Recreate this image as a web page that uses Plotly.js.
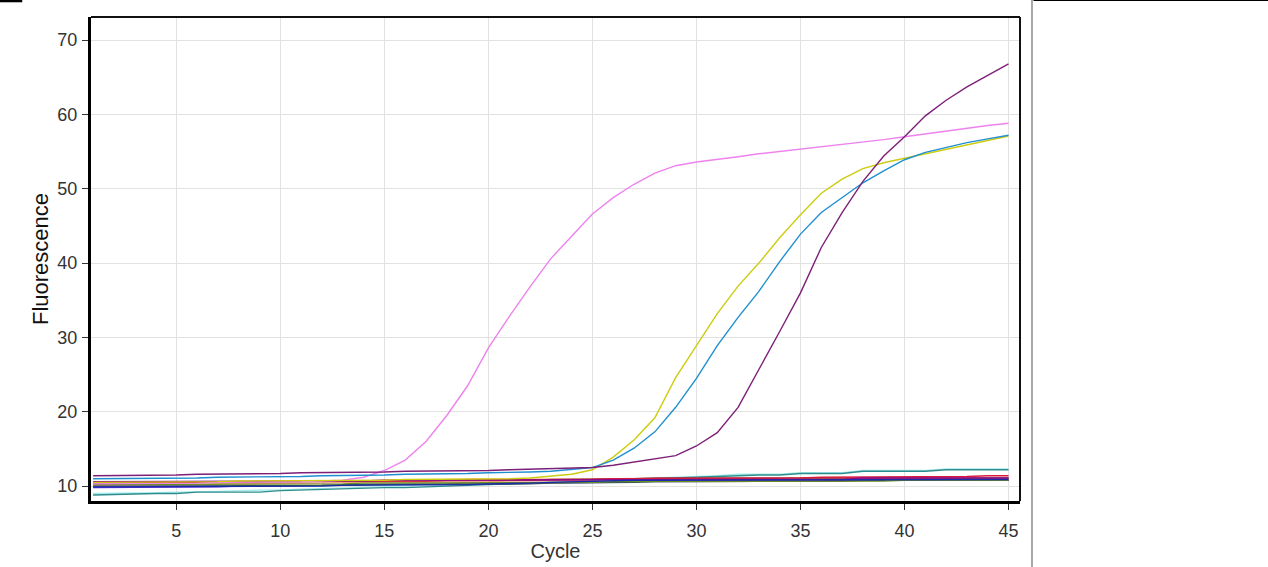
<!DOCTYPE html>
<html>
<head>
<meta charset="utf-8">
<script src="https://cdn.plot.ly/plotly-3.0.1.min.js"></script>
<style>html,body{margin:0;padding:0;background:#fff;}#chart{width:1268px;height:567px;}</style>
</head>
<body>
<div id="chart"></div>
<script>
const cycles = [1,2,3,4,5,6,7,8,9,10,11,12,13,14,15,16,17,18,19,20,21,22,23,24,25,26,27,28,29,30,31,32,33,34,35,36,37,38,39,40,41,42,43,44,45];

// flat (non-amplifying) wells
const tealVals = [8.8,8.9,9.0,9.0,9.0,9.2,9.2,9.2,9.2,9.4,9.5,9.6,9.6,9.8,9.8,9.8,9.9,10.0,10.1,10.2,10.3,10.4,10.5,10.6,10.7,10.8,10.9,11.0,11.1,11.2,11.3,11.5,11.5,11.5,11.7,11.7,11.7,12.0,12.0,12.0,12.0,12.2,12.2,12.2,12.2];
const lightCyanVals = [9.0,9.0,9.1,9.1,9.2,9.3,9.3,9.4,9.4,9.5,9.6,9.7,9.7,9.9,9.9,10.0,10.0,10.1,10.2,10.3,10.4,10.5,10.6,10.7,10.8,10.9,11.0,11.1,11.2,11.3,11.4,11.6,11.6,11.6,11.8,11.8,11.8,12.1,12.1,12.1,12.1,12.3,12.3,12.3,12.3];
const violetVals = [9.8,9.8,9.8,9.8,9.9,9.9,9.9,10.0,10.0,10.0,10.1,10.1,10.2,10.2,10.2,10.3,10.3,10.3,10.4,10.4,10.4,10.4,10.5,10.5,10.5,10.5,10.6,10.6,10.6,10.6,10.6,10.7,10.7,10.7,10.7,10.7,10.7,10.8,10.8,10.8,10.8,10.8,10.8,10.8,10.8];
const salmonVals = [10.1,10.1,10.1,10.2,10.2,10.2,10.3,10.3,10.3,10.4,10.4,10.4,10.5,10.5,10.5,10.5,10.6,10.6,10.6,10.6,10.7,10.7,10.7,10.7,10.8,10.8,10.8,10.8,10.8,10.9,10.9,10.9,10.9,10.9,10.9,11.0,11.0,11.0,11.0,11.0,11.0,11.0,11.0,11.0,11.0];
const slateVals = [10.0,10.0,10.0,10.0,10.0,10.0,10.1,10.1,10.1,10.1,10.1,10.1,10.2,10.2,10.2,10.2,10.2,10.2,10.2,10.3,10.3,10.3,10.4,10.4,10.5,10.5,10.5,10.6,10.6,10.6,10.6,10.7,10.7,10.7,10.7,10.7,10.8,10.8,10.8,10.8,10.8,10.8,10.8,10.8,10.8];
const greenVals = [10.2,10.2,10.2,10.2,10.3,10.3,10.3,10.3,10.3,10.3,10.3,10.3,10.3,10.4,10.4,10.4,10.4,10.4,10.4,10.4,10.5,10.5,10.5,10.5,10.5,10.6,10.6,10.6,10.6,10.6,10.6,10.7,10.7,10.7,10.7,10.7,10.7,10.7,10.7,10.8,10.8,10.8,10.8,10.8,10.8];
const orangeVals = [10.5,10.5,10.5,10.5,10.5,10.6,10.6,10.6,10.6,10.7,10.7,10.7,10.7,10.8,10.8,10.8,10.8,10.8,10.9,10.9,10.9,10.9,11.0,11.0,11.0,11.0,11.0,11.0,11.0,11.0,11.0,11.0,11.0,11.0,11.0,11.0,11.0,11.0,11.0,11.0,11.0,11.0,11.0,11.0,11.0];
const brownVals = [10.5,10.5,10.5,10.5,10.5,10.5,10.6,10.6,10.6,10.6,10.6,10.6,10.7,10.7,10.7,10.7,10.7,10.8,10.8,10.8,10.8,10.8,10.9,10.9,10.9,10.9,11.0,11.1,11.1,11.1,11.1,11.1,11.1,11.1,11.1,11.1,11.1,11.1,11.1,11.1,11.1,11.1,11.1,11.1,11.1];
const redVals = [10.4,10.4,10.4,10.5,10.5,10.5,10.5,10.5,10.6,10.6,10.6,10.6,10.6,10.7,10.7,10.7,10.7,10.8,10.8,10.8,10.8,10.9,10.9,10.9,10.9,11.0,11.0,11.0,11.0,11.0,11.0,11.1,11.1,11.1,11.1,11.2,11.2,11.2,11.2,11.2,11.3,11.3,11.3,11.4,11.4];
const navyVals = [9.9,9.9,9.9,9.9,9.9,9.9,9.9,9.9,10.0,10.0,10.0,10.0,10.1,10.1,10.1,10.1,10.1,10.2,10.2,10.3,10.3,10.4,10.5,10.6,10.7,10.7,10.8,10.8,10.8,10.8,10.8,10.8,10.8,10.8,10.8,10.8,10.8,10.9,10.9,10.9,10.9,10.9,10.9,10.9,10.9];
const purpleFlatVals = [10.6,10.6,10.6,10.6,10.6,10.6,10.6,10.7,10.7,10.7,10.7,10.7,10.7,10.7,10.8,10.8,10.8,10.8,10.8,10.8,10.8,10.8,10.8,10.8,10.8,10.8,10.8,10.8,10.8,10.8,10.8,10.8,10.9,10.9,10.9,10.9,10.9,11.1,11.1,11.1,11.1,11.1,11.1,11.1,11.1];

// amplifying wells
const pinkVals = [10.3,10.3,10.3,10.4,10.4,10.4,10.5,10.5,10.5,10.6,10.6,10.7,10.8,11.2,12.1,13.5,16.0,19.5,23.5,28.6,32.8,36.8,40.6,43.6,46.6,48.8,50.6,52.1,53.1,53.6,54.0,54.3,54.7,55.0,55.4,55.7,56.0,56.3,56.6,57.0,57.4,57.8,58.2,58.5,58.8];
const yellowVals = [10.5,10.5,10.5,10.6,10.6,10.6,10.6,10.7,10.7,10.7,10.7,10.8,10.8,10.8,10.8,10.9,10.9,10.9,11.0,11.0,11.0,11.1,11.3,11.6,12.2,13.9,16.2,19.2,24.6,28.9,33.2,36.9,40.0,43.4,46.5,49.4,51.3,52.7,53.5,54.1,54.7,55.3,55.9,56.5,57.1];
const blueVals = [11.0,11.0,11.0,11.1,11.1,11.1,11.2,11.2,11.2,11.3,11.3,11.4,11.4,11.5,11.5,11.6,11.6,11.7,11.7,11.8,11.8,11.9,12.0,12.2,12.5,13.5,15.1,17.3,20.6,24.5,28.9,32.7,36.2,40.2,43.9,46.8,48.8,50.8,52.4,53.9,54.9,55.6,56.2,56.7,57.2];
const purpleVals = [11.4,11.4,11.4,11.4,11.5,11.6,11.6,11.6,11.7,11.7,11.8,11.8,11.8,11.9,11.9,12.0,12.0,12.0,12.1,12.1,12.2,12.3,12.4,12.4,12.5,12.8,13.2,13.6,14.1,15.4,17.2,20.6,25.6,30.8,36.0,42.1,46.8,51.0,54.4,57.0,59.8,61.9,63.7,65.3,66.8];

const xTicks = [5,10,15,20,25,30,35,40,45];
const yTicks = [10,20,30,40,50,60,70];

const series = [
  {y: lightCyanVals, c: '#a6ecec'},
  {y: tealVals, c: '#2e8c8c'},
  {y: violetVals, c: '#5a2ae0'},
  {y: salmonVals, c: '#f2a37e'},
  {y: slateVals, c: '#2f4f5f'},
  {y: greenVals, c: '#6b8e23'},
  {y: orangeVals, c: '#e2701c'},
  {y: brownVals, c: '#a23c3c'},
  {y: redVals, c: '#d81b3c'},
  {y: purpleFlatVals, c: '#8b0a8b'},
  {y: navyVals, c: '#1a2aa8'},
  {y: pinkVals, c: '#ee82ee'},
  {y: yellowVals, c: '#cccc10'},
  {y: blueVals, c: '#1f8fd0'},
  {y: purpleVals, c: '#7d1f78'}
];

const traces = series.map(s => ({
  x: cycles, y: s.y, type: 'scatter', mode: 'lines',
  line: {color: s.c, width: 1.4}, hoverinfo: 'skip'
}));

const fam = 'Liberation Sans, Arial, sans-serif';
const tickFont = {family: fam, size: 18, color: '#333'};

const layout = {
  width: 1268, height: 567,
  margin: {l: 91, r: 248, t: 17, b: 66},
  paper_bgcolor: '#fff', plot_bgcolor: '#fff',
  showlegend: false, hovermode: false,
  font: tickFont,
  xaxis: {
    range: [0.9, 45.55], tickvals: xTicks, ticktext: xTicks.map(String),
    showgrid: true, gridcolor: '#e2e2e2', gridwidth: 1,
    ticks: 'outside', ticklen: 6, tickcolor: '#333', tickwidth: 1,
    showline: true, linecolor: '#000', linewidth: 3, zeroline: false,
    tickfont: tickFont, automargin: false, ticklabelstandoff: 5,
    title: {text: 'Cycle', font: {family: fam, size: 20, color: '#333'}, standoff: 5}
  },
  yaxis: {
    range: [8, 73.1], tickvals: yTicks, ticktext: yTicks.map(String),
    showgrid: true, gridcolor: '#e2e2e2', gridwidth: 1,
    ticks: 'outside', ticklen: 6, tickcolor: '#333', tickwidth: 1,
    showline: true, linecolor: '#000', linewidth: 3, zeroline: false,
    tickfont: tickFont, automargin: false, ticklabelstandoff: 1,
    title: {text: 'Fluorescence', font: {family: fam, size: 22, color: '#111'}, standoff: 3}
  },
  shapes: [
    {type: 'line', xref: 'paper', yref: 'paper', x0: 0, x1: 1, y0: 1, y1: 1, line: {color: '#111', width: 2}},
    {type: 'line', xref: 'paper', yref: 'paper', x0: 1, x1: 1, y0: 0, y1: 1, line: {color: '#111', width: 2}},
    {type: 'line', xref: 'paper', yref: 'paper', x0: 1.0129, x1: 1.0129, y0: -0.14, y1: 1.04, line: {color: '#a8a8a8', width: 2}},
    {type: 'line', xref: 'paper', yref: 'paper', x0: 1.0145, x1: 1.27, y0: 1.0345, y1: 1.0345, line: {color: '#000', width: 1.5}},
    {type: 'line', xref: 'paper', yref: 'paper', x0: -0.098, x1: -0.074, y0: 1.0335, y1: 1.0335, line: {color: '#000', width: 3}}
  ]
};

Plotly.newPlot('chart', traces, layout, {displayModeBar: false, staticPlot: true});
</script>
</body>
</html>
